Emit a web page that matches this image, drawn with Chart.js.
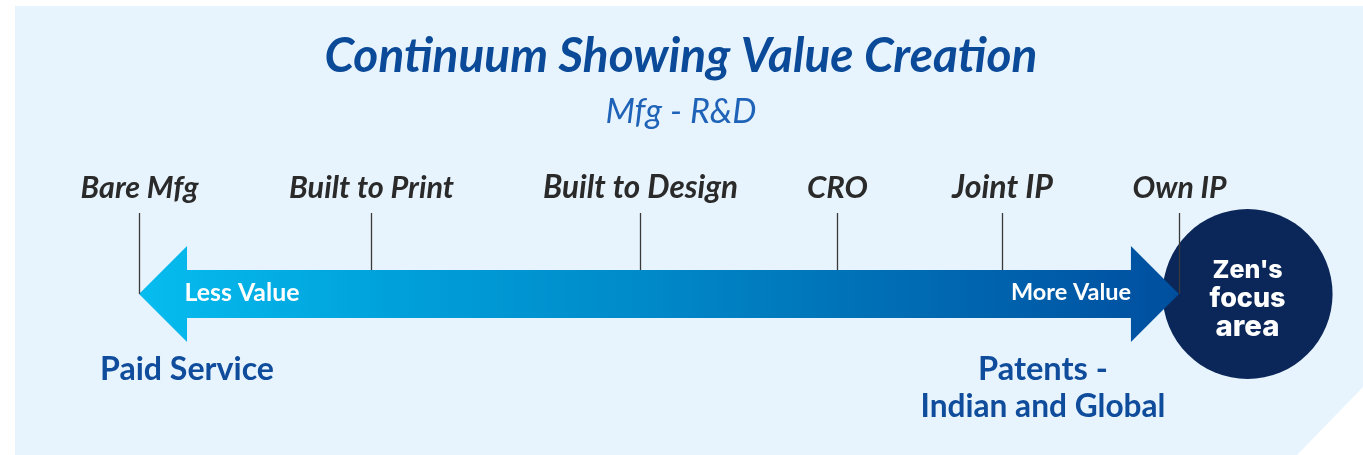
<!DOCTYPE html>
<html>
<head>
<meta charset="utf-8">
<script src="https://cdn.jsdelivr.net/npm/chart.js@4"></script>
<style>
  html, body { margin: 0; padding: 0; background: #ffffff; }
  #c { display: block; }
</style>
</head>
<body>
<canvas id="c" width="1363" height="455"></canvas>
<script>
// continuum stages and where they sit on the value scale (0 = least, 10 = most)
const stages = ['Bare Mfg', 'Built to Print', 'Built to Design', 'CRO', 'Joint IP', 'Own IP'];
const stageValue = [0, 2.23, 4.82, 6.71, 8.3, 10];
const arrowLabels = ['Less Value', 'More Value'];
const endNotes = [['Paid Service'], ['Patents -', 'Indian and Global']];
const focusLabel = ["Zen's", 'focus', 'area'];
const focusValue = 10.66;
const titleText = 'Continuum Showing Value Creation';
const subtitleText = 'Mfg - R&D';

// size a font so the text spans the given width
function fitFont(ctx, text, style, family, width) {
  ctx.font = style + ' 100px ' + family;
  const w = ctx.measureText(text).width;
  return style + ' ' + (100 * width / w).toFixed(2) + 'px ' + family;
}

function drawText(ctx, text, x, y, style, family, width, color) {
  ctx.font = fitFont(ctx, text, style, family, width);
  ctx.fillStyle = color;
  ctx.textAlign = 'center';
  ctx.textBaseline = 'alphabetic';
  ctx.fillText(text, x, y);
}

const panelPlugin = {
  id: 'panel',
  beforeDraw(chart) {
    const ctx = chart.ctx;
    ctx.save();
    ctx.fillStyle = '#ffffff';
    ctx.fillRect(0, 0, chart.width, chart.height);
    ctx.fillStyle = '#e8f4fd';
    ctx.beginPath();
    ctx.moveTo(15, 6);
    ctx.lineTo(1363, 6);
    ctx.lineTo(1363, 387);
    ctx.lineTo(1297, 455);
    ctx.lineTo(15, 455);
    ctx.closePath();
    ctx.fill();

    drawText(ctx, titleText, 681, 72, 'italic 700', 'Lato', 713, '#0b4a98');
    drawText(ctx, subtitleText, 681, 123, 'italic 400', 'Lato', 151, '#1f63b8');
    ctx.restore();
  }
};

const continuumPlugin = {
  id: 'continuum',
  afterDatasetsDraw(chart) {
    const ctx = chart.ctx;
    const xs = chart.scales.x, ys = chart.scales.y;
    const x0 = xs.getPixelForValue(stageValue[0]);
    const x1 = xs.getPixelForValue(stageValue[stageValue.length - 1]);
    const yc = ys.getPixelForValue(294);
    const bodyHalf = 24, headHalf = 48, headLen = 48;
    ctx.save();

    // double arrow
    const grad = ctx.createLinearGradient(x0, 0, x1, 0);
    grad.addColorStop(0, '#06bcef');
    grad.addColorStop(0.25, '#00a0da');
    grad.addColorStop(0.5, '#0088c8');
    grad.addColorStop(0.7, '#0070b6');
    grad.addColorStop(1, '#004f9f');
    ctx.fillStyle = grad;
    ctx.beginPath();
    ctx.moveTo(x0, yc);
    ctx.lineTo(x0 + headLen, yc - headHalf);
    ctx.lineTo(x0 + headLen, yc - bodyHalf);
    ctx.lineTo(x1 - headLen, yc - bodyHalf);
    ctx.lineTo(x1 - headLen, yc - headHalf);
    ctx.lineTo(x1, yc);
    ctx.lineTo(x1 - headLen, yc + headHalf);
    ctx.lineTo(x1 - headLen, yc + bodyHalf);
    ctx.lineTo(x0 + headLen, yc + bodyHalf);
    ctx.lineTo(x0 + headLen, yc + headHalf);
    ctx.closePath();
    ctx.fill();

    // stage ticks and labels
    ctx.strokeStyle = '#3a3a3a';
    ctx.lineWidth = 1.3;
    const labelWidths = [118, 165, 195, 61, 101, 94];
    stages.forEach((s, i) => {
      const x = Math.round(xs.getPixelForValue(stageValue[i])) + 0.5;
      const end = (i === 0 || i === stages.length - 1) ? yc : yc - bodyHalf;
      ctx.beginPath();
      ctx.moveTo(x, 213);
      ctx.lineTo(x, end);
      ctx.stroke();
      drawText(ctx, s, x, 198, 'italic 700', 'Lato', labelWidths[i], '#2a2a2a');
    });

    // arrow captions
    drawText(ctx, arrowLabels[0], 242, 301, '700', 'Lato', 115, '#ffffff');
    drawText(ctx, arrowLabels[1], 1071, 300, '700', 'Lato', 120, '#ffffff');

    // end notes
    drawText(ctx, endNotes[0][0], 187, 380, '700', 'Lato', 174, '#0f4c9c');
    drawText(ctx, endNotes[1][0], 1043, 380, '700', 'Lato', 130, '#0f4c9c');
    drawText(ctx, endNotes[1][1], 1043, 417, '700', 'Lato', 245, '#0f4c9c');

    // focus circle text
    const fx = xs.getPixelForValue(focusValue);
    const fy = [278, 307, 336], fw = [70, 76, 64];
    focusLabel.forEach((t, i) => drawText(ctx, t, fx, fy[i], '800', 'Inter', fw[i], '#ffffff'));
    ctx.restore();
  }
};

new Chart(document.getElementById('c'), {
  type: 'scatter',
  data: {
    datasets: [{
      label: 'focus',
      data: [{ x: focusValue, y: 294 }],
      pointRadius: 85,
      pointHoverRadius: 85,
      backgroundColor: '#0b2759',
      borderWidth: 0
    }]
  },
  options: {
    responsive: false,
    devicePixelRatio: 1,
    animation: false,
    layout: { padding: 0, autoPadding: false },
    plugins: { legend: { display: false }, tooltip: { enabled: false } },
    events: [],
    scales: {
      x: { type: 'linear', display: false, min: -1.337, max: 11.77 },
      y: { type: 'linear', display: false, min: 0, max: 455, reverse: true }
    }
  },
  plugins: [panelPlugin, continuumPlugin]
});
</script>
</body>
</html>
